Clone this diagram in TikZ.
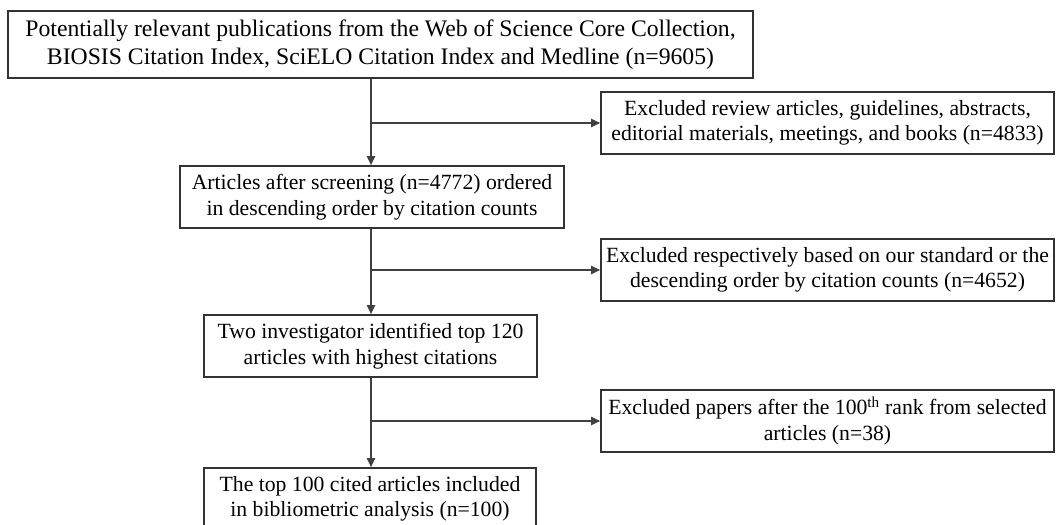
\documentclass[tikz,border=0pt]{standalone}
\usepackage{fontspec}
\setmainfont{Liberation Serif}
\usetikzlibrary{arrows.meta}
\begin{document}
\begin{tikzpicture}[x=1pt,y=-1pt,
  box/.style={draw=black!80, line width=1.6pt, rectangle, inner sep=0pt, align=center,
    font=\fontsize{21.7}{25.5}\selectfont, text=black},
  bigbox/.style={box, font=\fontsize{23.7}{28.5}\selectfont},
  conn/.style={draw=black!75, line width=1.8pt, -{Triangle[length=9pt,width=8pt]}}]
\clip (0,0) rectangle (1056,524);
\node[bigbox, minimum width=745pt, minimum height=67pt] (top) at (380.5,44.5)
  {Potentially relevant publications from the Web of Science Core Collection,\\BIOSIS Citation Index, SciELO Citation Index and Medline (n=9605)};
\node[box, minimum width=453pt, minimum height=62pt] (r1) at (827.5,123)
  {Excluded review articles, guidelines, abstracts,\\editorial materials, meetings, and books (n=4833)};
\node[box, minimum width=384pt, minimum height=62pt] (b2) at (372,197)
  {Articles after screening (n=4772) ordered\\in descending order by citation counts};
\node[box, minimum width=453pt, minimum height=62pt] (r2) at (827.5,270)
  {Excluded respectively based on our standard or the\\descending order by citation counts (n=4652)};
\node[box, minimum width=333pt, minimum height=62pt] (b3) at (370.5,346)
  {Two investigator identified top 120\\articles with highest citations};
\node[box, minimum width=453pt, minimum height=62pt] (r3) at (827.5,421)
  {Excluded papers after the 100\textsuperscript{th} rank from selected\\articles (n=38)};
\node[box, minimum width=332pt, minimum height=62pt] (b4) at (370,499)
  {The top 100 cited articles included\\in bibliometric analysis (n=100)};
\coordinate (xl) at (371,0);
\draw[conn] (top.south -| xl) -- (b2.north -| xl);
\draw[conn] (b2.south -| xl) -- (b3.north -| xl);
\draw[conn] (b3.south -| xl) -- (b4.north -| xl);
\draw[conn] (xl |- r1.west) -- (r1.west);
\draw[conn] (xl |- r2.west) -- (r2.west);
\draw[conn] (xl |- r3.west) -- (r3.west);
\end{tikzpicture}
\end{document}
